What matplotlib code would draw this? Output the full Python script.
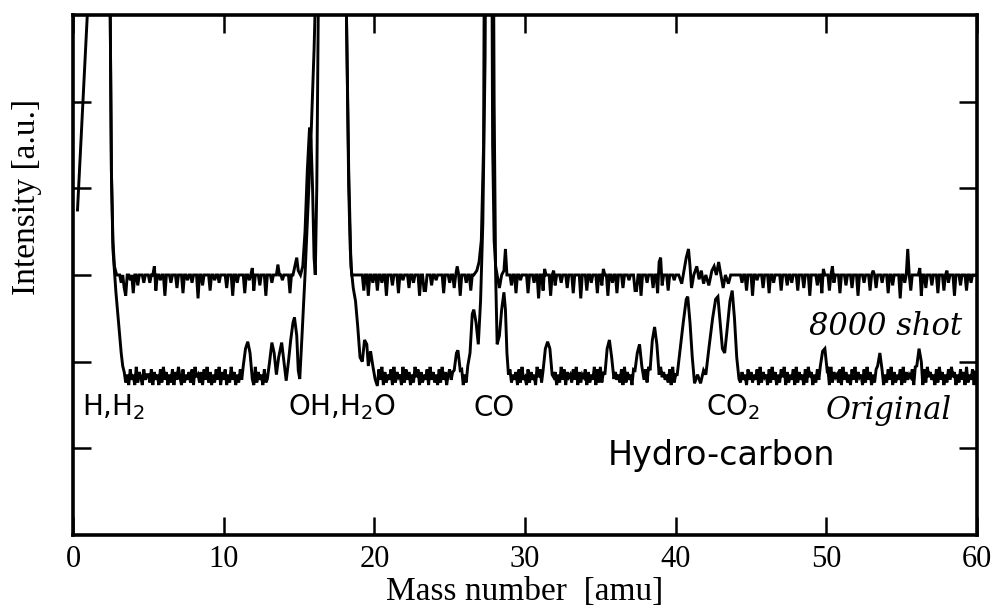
import numpy as np
import matplotlib
matplotlib.use("Agg")
from matplotlib import pyplot as plt

# baseline noise, one character per 0.1 amu ('-' = no sample, digit = dip depth)
noise_8000 = "".join([
    "---------- ---------- ---0000000 0030580020 7004000300",
    "0300060020 0800030005 0007002003 0009004000 0600200300",
    "0050008003 0000700200 6000400080 0030005002 0000700400",
    "0030000000 0000000000 0000000000 0000000000 0006008003",
    "0060030080 0040007002 0005003000 8006600040 0200007000",
    "3005000800 0300600000 0000000000 0000000000 0400700200",
    "0070003009 0060000800 4000300050 0070000900 0600300070",
    "0400080030 0700050002 0006600800 0300050070 0400060002",
    "0050003000 0000000000 0000000000 0000000000 0000300600",
    "0800200050 0070030000 6000400300 0600050008 0000400700",
    "0060030007 0004000500 0800030006 0005000300 0700400009",
    "0030006000 0008005000 4000700060 0300080004 0006003000",
]).replace(" ", "")

noise_orig = "".join([
    "---0000000 0000000000 0000000000 0000485937 5928469375",
    "5839475938 2749583947 2693857483 9265849372 8495837294",
    "7395827495 8372948573 9284759382 7495837264 9583749285",
    "4938574938 2759483726 9584738295 7493857284 9375948372",
    "8593729485 7392846592 8374958263 9485739274 8593827495",
    "3749582739 5847293857 4928375948 2739584729 3857493827",
    "6938475926 3847592836 4958273946 5837294856 3948572938",
    "2849573829 4758392847 5938264957 3829475839 2647583928",
    "5938472958 3749285736 4958372849 5738294857 3928475937",
    "4857392846 5938274958 3629485739 2847593826 4958372948",
    "7392846583 9274859372 8465938274 9583726495 8372948573",
    "9284756392 8475938264 7593827495 8372649583 7492857394",
]).replace(" ", "")

base_8000 = 3.0
base_orig = 2.0
dip_step = 0.03

peaks_8000 = [
    [(2.3, 9), (2.45, 6.5), (2.55, 4.2), (2.65, 3.4), (2.75, 3.1), (2.9, 3.0)],
    [(5.4, 3.1)],
    [(11.9, 3.08)],
    [(13.6, 3.12)],
    [(14.6, 3.0), (14.75, 3.12), (14.85, 3.2), (14.95, 3.05), (15.1, 3.0),
     (15.25, 3.1), (15.4, 3.5), (15.55, 4.2), (15.7, 4.7), (15.8, 4.55),
     (15.9, 4.0), (16.0, 3.2), (16.08, 3.0), (16.18, 4.0), (16.3, 6.5),
     (16.4, 9), (18.0, 9), (18.15, 6.0), (18.3, 4.0), (18.4, 3.3), (18.5, 3.0)],
    [(25.5, 3.1)],
    [(26.6, 3.0), (26.8, 3.05), (26.95, 3.15), (27.1, 3.4), (27.25, 4.5),
     (27.35, 9), (27.75, 9), (27.85, 4.5), (27.95, 3.4), (28.05, 3.1),
     (28.15, 3.0), (28.3, 2.85), (28.45, 3.0), (28.6, 3.05), (28.7, 3.3),
     (28.8, 3.0)],
    [(31.3, 3.07)],
    [(31.9, 3.05)],
    [(35.2, 3.07)],
    [(38.9, 3.15), (39.0, 3.2)],
    [(40.2, 3.0), (40.4, 2.9), (40.55, 3.05), (40.7, 3.2), (40.85, 3.3),
     (40.95, 3.1), (41.05, 2.85), (41.2, 3.0), (41.4, 3.1), (41.55, 2.95),
     (41.7, 3.05), (41.85, 2.9), (42.0, 3.0), (42.2, 2.88), (42.4, 3.05),
     (42.55, 3.1), (42.7, 3.0), (42.85, 3.15), (43.0, 3.0), (43.15, 2.85),
     (43.3, 3.0), (43.5, 2.9), (43.65, 3.0)],
    [(49.8, 3.07)],
    [(50.4, 3.1)],
    [(53.1, 3.05)],
    [(55.4, 3.3)],
    [(56.2, 3.08)],
    [(58.0, 3.05)],
]

peaks_orig = [
    [(0.3, 3.75), (0.5, 4.45), (0.7, 5.15), (0.95, 6.0), (1.1, 7.0),
     (1.3, 9), (2.35, 9), (2.45, 6.5), (2.55, 4.2), (2.65, 3.3),
     (2.85, 2.8), (3.05, 2.4), (3.2, 2.1), (3.3, 1.95)],
    [(11.3, 1.95), (11.45, 2.15), (11.6, 2.23), (11.75, 2.1), (11.9, 1.8)],
    [(12.9, 1.8), (13.05, 2.0), (13.2, 2.22), (13.35, 2.1), (13.5, 1.85),
     (13.65, 2.05), (13.85, 2.22), (14.0, 2.0), (14.15, 1.78), (14.3, 2.0),
     (14.45, 2.25), (14.6, 2.45), (14.7, 2.51), (14.85, 2.3), (14.95, 1.9),
     (15.05, 1.8), (15.2, 2.3), (15.4, 3.0), (15.6, 3.8), (15.8, 4.6),
     (16.0, 5.6), (16.15, 6.6), (16.25, 9), (18.0, 9), (18.15, 6.0),
     (18.3, 4.2), (18.45, 3.1), (18.6, 2.85), (18.75, 2.7), (18.9, 2.4),
     (19.05, 2.05), (19.2, 2.0), (19.35, 2.25), (19.5, 2.2), (19.6, 1.95),
     (19.75, 2.12), (19.9, 1.95), (20.05, 1.8), (20.2, 1.72)],
    [(25.3, 1.9), (25.45, 2.1), (25.55, 2.13), (25.7, 1.9)],
    [(26.2, 1.95), (26.35, 2.1), (26.5, 2.55), (26.6, 2.6), (26.75, 2.45),
     (26.9, 2.2), (27.05, 2.7), (27.2, 3.6), (27.35, 5.5), (27.45, 9),
     (27.85, 9), (27.95, 5.0), (28.05, 3.0), (28.15, 2.2), (28.3, 2.3),
     (28.45, 2.6), (28.6, 2.8), (28.7, 2.6), (28.8, 2.1), (28.9, 1.85)],
    [(31.2, 1.9), (31.35, 2.15), (31.5, 2.23), (31.65, 2.15), (31.8, 1.85)],
    [(35.3, 1.85), (35.45, 2.15), (35.6, 2.25), (35.75, 2.05), (35.9, 1.8)],
    [(37.3, 1.9), (37.45, 2.1), (37.6, 2.2), (37.75, 1.95)],
    [(38.3, 1.9), (38.45, 2.25), (38.6, 2.4), (38.75, 2.2), (38.9, 1.85)],
    [(40.1, 1.85), (40.3, 2.15), (40.5, 2.45), (40.7, 2.72), (40.8, 2.75),
     (40.95, 2.45), (41.1, 2.05), (41.25, 1.75), (41.45, 1.85), (41.65, 1.75),
     (41.85, 1.9), (42.0, 1.85), (42.2, 2.15), (42.45, 2.5), (42.65, 2.72),
     (42.8, 2.75), (42.95, 2.45), (43.1, 2.15), (43.25, 2.1), (43.4, 2.35),
     (43.6, 2.7), (43.75, 2.82), (43.9, 2.5), (44.05, 2.05), (44.2, 1.8)],
    [(49.6, 1.95), (49.75, 2.12), (49.9, 2.15), (50.05, 1.9)],
    [(53.4, 1.95), (53.55, 2.1), (53.7, 1.9)],
    [(56.0, 1.95), (56.15, 2.15), (56.3, 2.0)],
]

x_ticks = [0, 10, 20, 30, 40, 50, 60]
y_ticks = [1, 2, 3, 4, 5]


def build_trace(noise, base, peaks):
    xs, ys = [], []
    covered = [(min(p[0] for p in g) - 0.05, max(p[0] for p in g) + 0.05) for g in peaks]
    for i, c in enumerate(noise):
        m = i / 10
        if c == "-" or any(lo <= m <= hi for lo, hi in covered):
            continue
        xs.append(m)
        ys.append(base - int(c) * dip_step)
    for g in peaks:
        for m, v in g:
            xs.append(m)
            ys.append(v)
    order = np.argsort(xs, kind="stable")
    return np.array(xs)[order], np.array(ys)[order]


fig = plt.figure(figsize=(9.97, 6.14), dpi=100)
ax = fig.add_axes([0.0732, 0.1287, 0.9068, 0.8469])

for noise, base, peaks in [(noise_8000, base_8000, peaks_8000),
                           (noise_orig, base_orig, peaks_orig)]:
    mx, my = build_trace(noise, base, peaks)
    ax.plot(mx, my, color="black", linewidth=2.1, solid_joinstyle="miter")

ax.set_xlim(0, 60)
ax.set_ylim(0, 6)
ax.set_xticks(x_ticks)
ax.set_yticks(y_ticks)
ax.set_yticklabels([])
ax.tick_params(axis="both", direction="in", length=13, width=1.8,
               top=True, right=True, labelsize=22, pad=7)
for lab in ax.get_xticklabels():
    lab.set_family("Liberation Serif")
for s in ax.spines.values():
    s.set_linewidth(2.6)

ax.set_xlabel("Mass number  [amu]", family="Liberation Serif", fontsize=24, labelpad=2)
fig.text(0.027, 0.68, "Intensity [a.u.]", family="Liberation Serif", fontsize=24,
         rotation=90, ha="center", va="center")

sans = dict(family="DejaVu Sans", fontsize=20, va="center")
ax.text(0.6, 1.47, "H,H$_2$", ha="left", **sans)
ax.text(14.3, 1.47, "OH,H$_2$O", ha="left", **sans)
ax.text(26.6, 1.47, "CO", ha="left", **sans)
ax.text(42.0, 1.47, "CO$_2$", ha="left", **sans)
ax.text(35.5, 0.92, "Hydro-carbon", ha="left", family="DejaVu Sans", fontsize=24, va="center")

serif_it = dict(family="DejaVu Serif", style="italic", fontsize=22, va="center", ha="right")
ax.text(59.0, 2.4, "8000 shot", **serif_it)
ax.text(58.3, 1.44, "Original", **serif_it)

fig.savefig("out.png", dpi=100)
